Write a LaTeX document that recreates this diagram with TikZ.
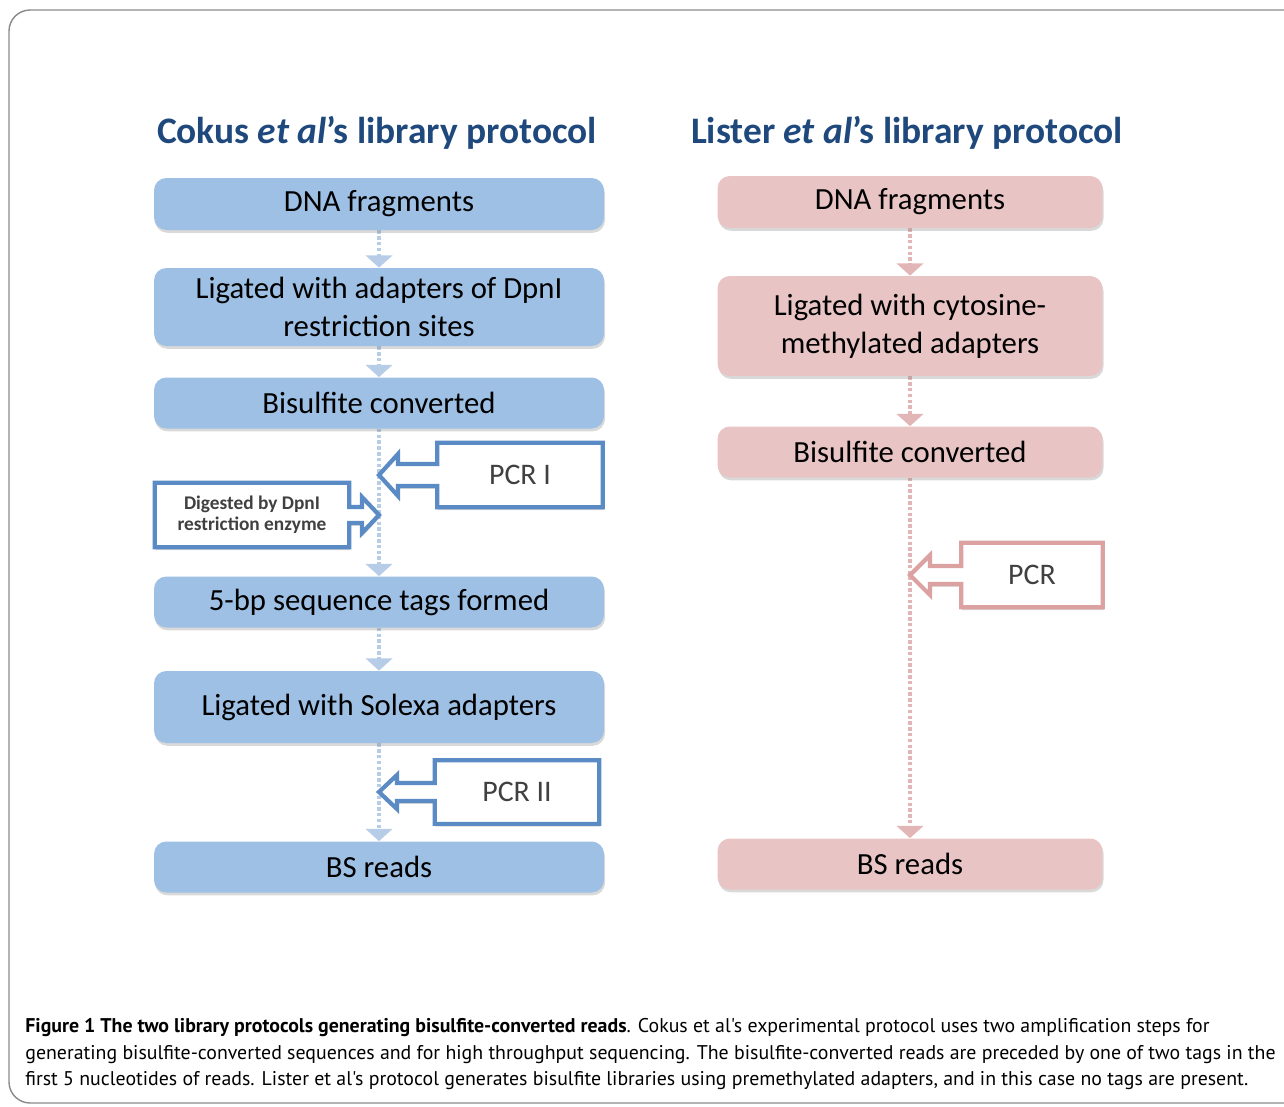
\documentclass[tikz,border=0pt]{standalone}
\usepackage{fontspec}
\setmainfont{Carlito}
\newfontfamily\capfont{PT Sans}
\usetikzlibrary{positioning,arrows.meta,shadows,calc,backgrounds}

\definecolor{titleblue}{HTML}{1F497D}
\definecolor{boxblue}{HTML}{9DC0E4}
\definecolor{boxpink}{HTML}{E8C4C4}
\definecolor{lineblue}{HTML}{5B8BC5}
\definecolor{linepink}{HTML}{DCA2A2}
\definecolor{dotblue}{HTML}{B7CCE6}
\definecolor{dotpink}{HTML}{E2B6B6}
\definecolor{calltext}{HTML}{404040}
\definecolor{framegrey}{HTML}{8A8A8A}

\tikzset{
  softshadow/.style={drop shadow={shadow xshift=.6pt, shadow yshift=-1.6pt, opacity=.3}},
  stepbox/.style={rounded corners=7pt, inner sep=2pt, align=center, softshadow,
    font=\fontsize{17.5}{21.6}\selectfont},
  bluebox/.style={stepbox, fill=boxblue, minimum width=9cm},
  pinkbox/.style={stepbox, fill=boxpink, minimum width=7.7cm},
  protitle/.style={text=titleblue, font=\fontsize{21.3}{26}\selectfont\bfseries},
  flowblue/.style={dotblue, line width=2.4pt, dash pattern=on 2pt off 1.3pt,
    -{Triangle[length=7pt,width=15pt]}},
  flowpink/.style={dotpink, line width=2.4pt, dash pattern=on 2pt off 1.3pt,
    -{Triangle[length=7pt,width=15pt]}},
  calltxt/.style={inner sep=0pt, text=calltext, font=\fontsize{17}{20}\selectfont},
  blueout/.style={draw=lineblue, line width=2.4pt, fill=white, softshadow},
  pinkout/.style={draw=linepink, line width=2.4pt, fill=white, softshadow}
}

\begin{document}
\begin{tikzpicture}[x=0.02cm, y=-0.02cm]
\useasboundingbox (0,0) rectangle (1284,1106);

% titles
\node[protitle] (cokus) at (377,133) {Cokus \textit{et al}'s library protocol};
\node[protitle] (lister) at (907,133) {Lister \textit{et al}'s library protocol};

% Cokus column
\node[bluebox, minimum height=1.04cm] (c1) at (379,204) {DNA fragments};
\node[bluebox, minimum height=1.56cm] (c2) at (379,307) {Ligated with adapters of DpnI\\restriction sites};
\node[bluebox, minimum height=1.02cm] (c3) at (379,403) {Bisulfite converted};
\node[bluebox, minimum height=1.02cm] (c4) at (379,602) {5-bp sequence tags formed};
\node[bluebox, minimum height=1.44cm] (c5) at (379,707) {Ligated with Solexa adapters};
\node[bluebox, minimum height=1.02cm] (c6) at (379,867) {BS reads};

% Lister column
\node[pinkbox, minimum height=1.04cm] (l1) at (910,202) {DNA fragments};
\node[pinkbox, minimum height=2cm] (l2) at (910,326) {Ligated with cytosine-\\methylated adapters};
\node[pinkbox, minimum height=1.02cm] (l3) at (910,452) {Bisulfite converted};
\node[pinkbox, minimum height=1.02cm] (l4) at (910,864) {BS reads};

% callout boxes
\node[calltxt, minimum width=3.3cm, minimum height=1.28cm] (pcrone) at (520,475) {PCR I};
\node[calltxt, minimum width=3.88cm, minimum height=1.28cm, align=center,
  font=\fontsize{11}{12}\selectfont\bfseries] (digest) at (252,515) {Digested by DpnI\\restriction enzyme};
\node[calltxt, minimum width=3.28cm, minimum height=1.26cm] (pcrtwo) at (517,792) {PCR II};
\node[calltxt, minimum width=2.82cm, minimum height=1.28cm] (pcr) at (1032,575) {PCR};

\coordinate (pcronetip) at (c3.south |- pcrone.west);
\coordinate (digesttip) at (c3.south |- digest.east);
\coordinate (pcrtwotip) at (c5.south |- pcrtwo.west);
\coordinate (pcrtip) at (l3.south |- pcr.west);

\begin{scope}[on background layer]
  % outer frame
  \draw[framegrey, line width=.8pt, rounded corners=12] (9,10) rectangle (1320,1103);

  \draw[flowblue] (c1.south) -- (c2.north);
  \draw[flowblue] (c2.south) -- (c3.north);
  \draw[flowblue] (c3.south) -- (c4.north);
  \draw[flowblue] (c4.south) -- (c5.north);
  \draw[flowblue] (c5.south) -- (c6.north);
  \draw[flowpink] (l1.south) -- (l2.north);
  \draw[flowpink] (l2.south) -- (l3.north);
  \draw[flowpink] (l3.south) -- (l4.north);

  % arrow boxes
  \draw[blueout] (pcrone.north west) -- (pcrone.north east) -- (pcrone.south east)
    -- (pcrone.south west) -- ($(pcrone.west)+(0,11)$) -- ($(pcronetip)+(19,11)$)
    -- ($(pcronetip)+(19,21)$) -- (pcronetip) -- ($(pcronetip)+(19,-21)$)
    -- ($(pcronetip)+(19,-11)$) -- ($(pcrone.west)+(0,-11)$) -- cycle;
  \draw[blueout] (digest.north west) -- (digest.north east) -- ($(digest.east)+(0,-8)$)
    -- ($(digesttip)+(-17,-8)$) -- ($(digesttip)+(-17,-18)$) -- (digesttip)
    -- ($(digesttip)+(-17,18)$) -- ($(digesttip)+(-17,8)$) -- ($(digest.east)+(0,8)$)
    -- (digest.south east) -- (digest.south west) -- cycle;
  \draw[blueout] (pcrtwo.north west) -- (pcrtwo.north east) -- (pcrtwo.south east)
    -- (pcrtwo.south west) -- ($(pcrtwo.west)+(0,9)$) -- ($(pcrtwotip)+(18,9)$)
    -- ($(pcrtwotip)+(18,17)$) -- (pcrtwotip) -- ($(pcrtwotip)+(18,-17)$)
    -- ($(pcrtwotip)+(18,-9)$) -- ($(pcrtwo.west)+(0,-9)$) -- cycle;
  \draw[pinkout] (pcr.north west) -- (pcr.north east) -- (pcr.south east)
    -- (pcr.south west) -- ($(pcr.west)+(0,9)$) -- ($(pcrtip)+(20,9)$)
    -- ($(pcrtip)+(20,20)$) -- (pcrtip) -- ($(pcrtip)+(20,-20)$)
    -- ($(pcrtip)+(20,-9)$) -- ($(pcr.west)+(0,-9)$) -- cycle;
\end{scope}

% caption
\node[anchor=north west, align=left, inner sep=0pt, font=\capfont\fontsize{11.3}{15.1}\selectfont] (caption) at (25,1018)
  {\textbf{Figure 1 The two library protocols generating bisulfite-converted reads}. Cokus et al's experimental protocol uses two amplification steps for\\
   generating bisulfite-converted sequences and for high throughput sequencing. The bisulfite-converted reads are preceded by one of two tags in the\\
   first 5 nucleotides of reads. Lister et al's protocol generates bisulfite libraries using premethylated adapters, and in this case no tags are present.};
\end{tikzpicture}
\end{document}
